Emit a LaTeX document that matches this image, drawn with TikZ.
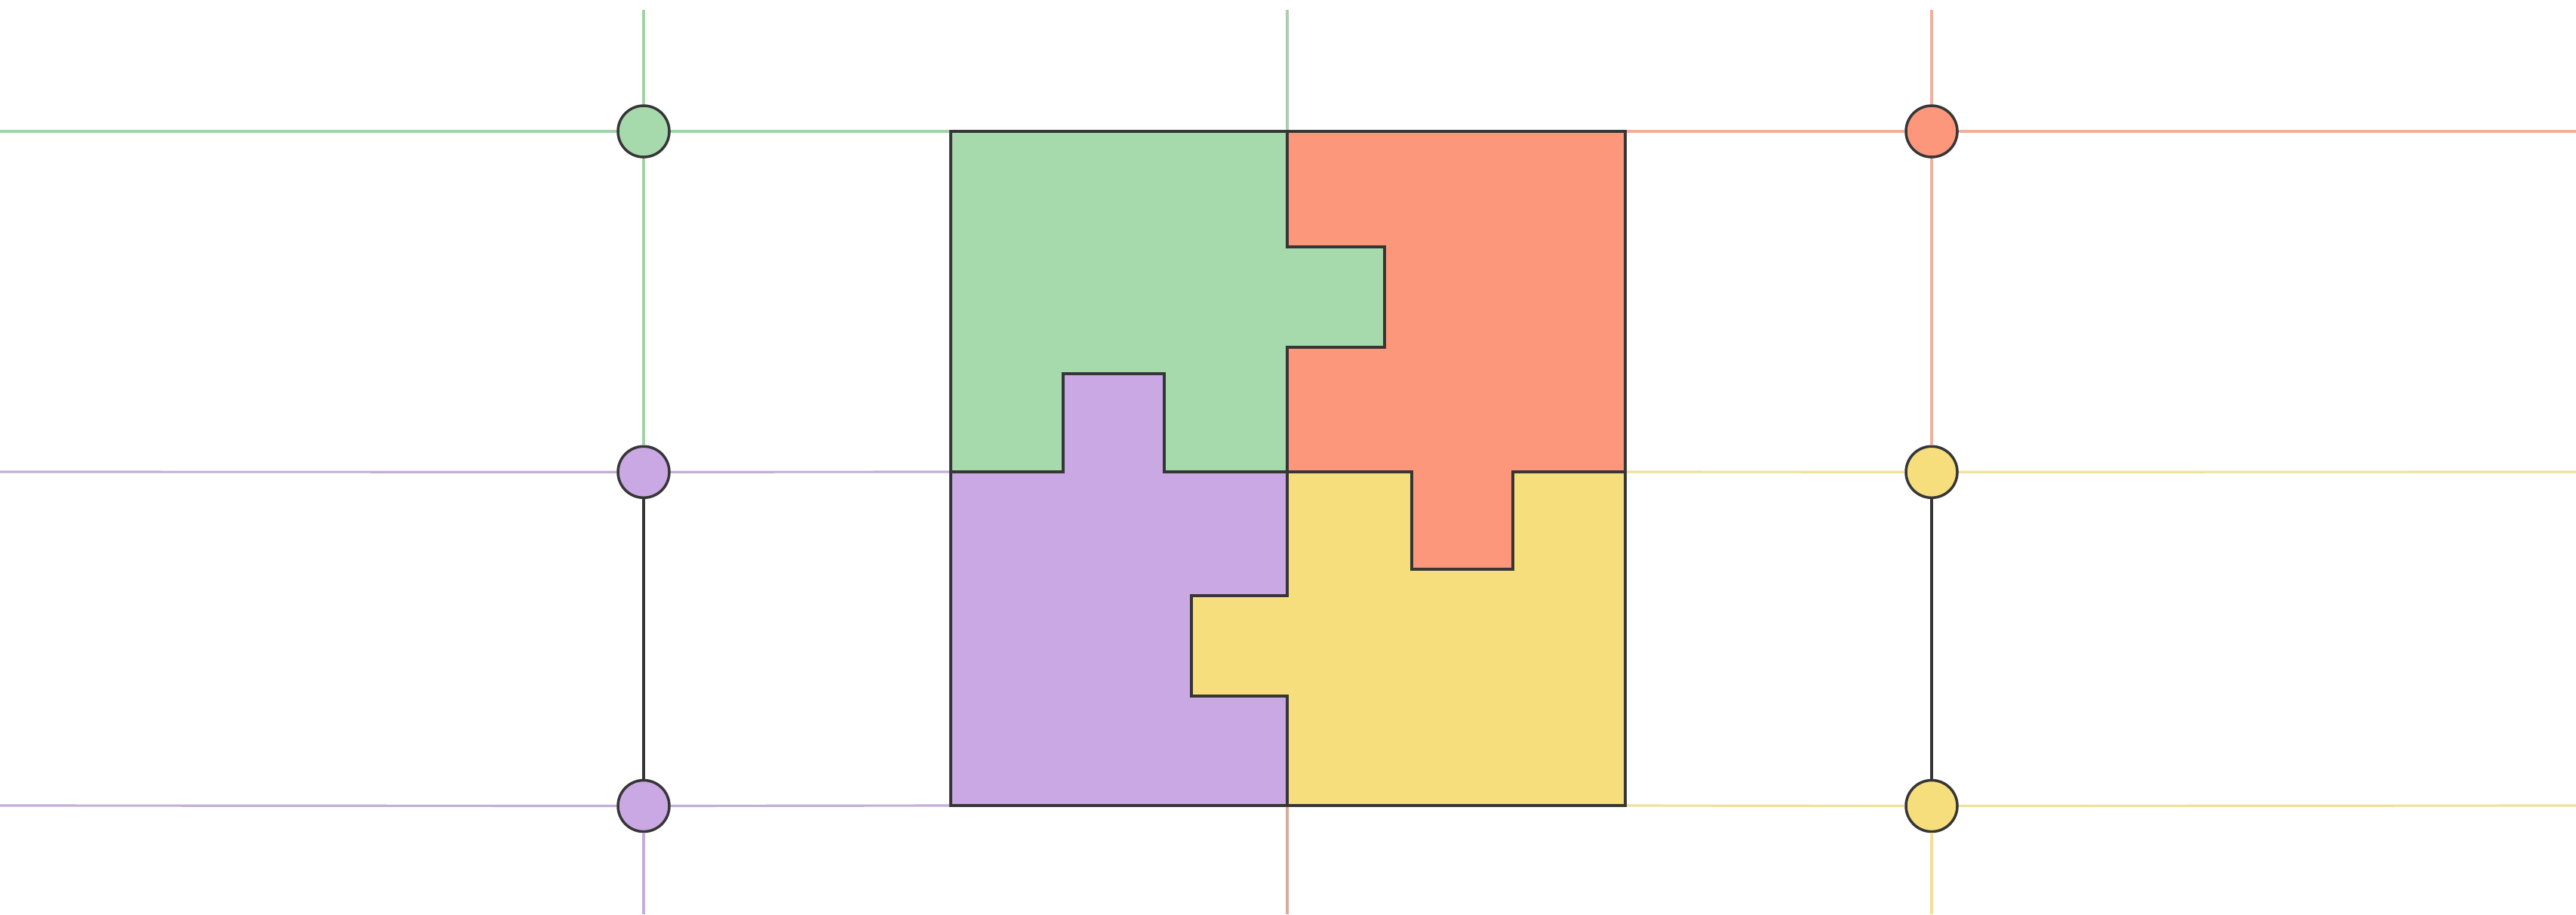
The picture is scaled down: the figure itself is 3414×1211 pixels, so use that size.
\documentclass[tikz,border=0pt]{standalone}
\usepackage{xcolor}
\usepackage{tikz}
\usetikzlibrary{positioning}

\definecolor{pzgreen}{HTML}{A6D9AC}
\definecolor{pzorange}{HTML}{FD977B}
\definecolor{pzpurple}{HTML}{C9A8E4}
\definecolor{pzyellow}{HTML}{F6DE7C}
\definecolor{edge}{HTML}{363636}
\definecolor{lngreen}{HTML}{A3D2A7}
\definecolor{lnorange}{HTML}{F0B0A0}
\definecolor{lnpurple}{HTML}{C2AED8}
\definecolor{lnyellow}{HTML}{F0E09A}
\definecolor{lnmidtop}{HTML}{B0CAB4}
\definecolor{lnmidbot}{HTML}{D8AC98}

\begin{document}
\begin{tikzpicture}[
x=0.01cm, y=-0.01cm,
joint/.style={circle, draw=edge, line width=1pt, minimum size=0.68cm, inner sep=0pt},
piece/.style={draw=edge, line width=1.1pt, line join=miter},
guide/.style={line width=0.9pt},
link/.style={draw=edge, line width=0.9pt}
]
\path[use as bounding box, fill=white] (0,0) rectangle (3414,1211);

% Square corners and free ends
\coordinate (sqNW) at (1260,174);
\coordinate (sqW) at (1260,625);
\coordinate (sqSW) at (1260,1067);
\coordinate (sqN) at (1706,174);
\coordinate (sqS) at (1706,1067);
\coordinate (sqNE) at (2154,174);
\coordinate (sqE) at (2154,625);
\coordinate (sqSE) at (2154,1067);
\coordinate (gW) at (0,174);
\coordinate (pW1) at (0,625);
\coordinate (pW2) at (0,1067);
\coordinate (gN) at (853,13);
\coordinate (pS) at (853,1211);
\coordinate (mN) at (1706,13);
\coordinate (mS) at (1706,1211);
\coordinate (oE) at (3414,174);
\coordinate (yE1) at (3414,625);
\coordinate (yE2) at (3414,1067);
\coordinate (oN) at (2560,13);
\coordinate (yS) at (2560,1211);

% Joints
\node[joint, fill=pzgreen] (cg) at (853,174) {};
\node[joint, fill=pzpurple, on grid, below=4.51cm of cg] (cp1) {};
\node[joint, fill=pzpurple, on grid, below=4.42cm of cp1] (cp2) {};
\node[joint, fill=pzorange] (co) at (2560,174) {};
\node[joint, fill=pzyellow, on grid, below=4.51cm of co] (cy1) {};
\node[joint, fill=pzyellow, on grid, below=4.42cm of cy1] (cy2) {};

% Left guides
\draw[guide, draw=lngreen] (gW) -- (cg) -- (sqNW);
\draw[guide, draw=lngreen] (gN) -- (cg) -- (cp1);
\draw[guide, draw=lnpurple] (pW1) -- (cp1) -- (sqW);
\draw[guide, draw=lnpurple] (pW2) -- (cp2) -- (sqSW);
\draw[guide, draw=lnpurple] (cp2) -- (pS);
\draw[link] (cp1) -- (cp2);

% Middle guides
\draw[guide, draw=lnmidtop] (mN) -- (sqN);
\draw[guide, draw=lnmidbot] (sqS) -- (mS);

% Right guides
\draw[guide, draw=lnorange] (sqNE) -- (co) -- (oE);
\draw[guide, draw=lnorange] (oN) -- (co) -- (cy1);
\draw[guide, draw=lnyellow] (sqE) -- (cy1) -- (yE1);
\draw[guide, draw=lnyellow] (sqSE) -- (cy2) -- (yE2);
\draw[guide, draw=lnyellow] (cy2) -- (yS);
\draw[link] (cy1) -- (cy2);

% Pieces
\filldraw[piece, fill=pzgreen] (sqNW) -- (sqN) -- (1706,327) -- (1835,327) -- (1835,460)
  -- (1706,460) -- (1706,625) -- (1543,625) -- (1543,495) -- (1409,495) -- (1409,625)
  -- (sqW) -- cycle;
\filldraw[piece, fill=pzorange] (sqN) -- (sqNE) -- (sqE) -- (2005,625) -- (2005,754)
  -- (1871,754) -- (1871,625) -- (1706,625) -- (1706,460) -- (1835,460) -- (1835,327)
  -- (1706,327) -- cycle;
\filldraw[piece, fill=pzpurple] (sqW) -- (1409,625) -- (1409,495) -- (1543,495) -- (1543,625)
  -- (1706,625) -- (1706,789) -- (1579,789) -- (1579,922) -- (1706,922) -- (sqS)
  -- (sqSW) -- cycle;
\filldraw[piece, fill=pzyellow] (1706,625) -- (1871,625) -- (1871,754) -- (2005,754)
  -- (2005,625) -- (sqE) -- (sqSE) -- (sqS) -- (1706,922) -- (1579,922) -- (1579,789)
  -- (1706,789) -- cycle;
\end{tikzpicture}
\end{document}
